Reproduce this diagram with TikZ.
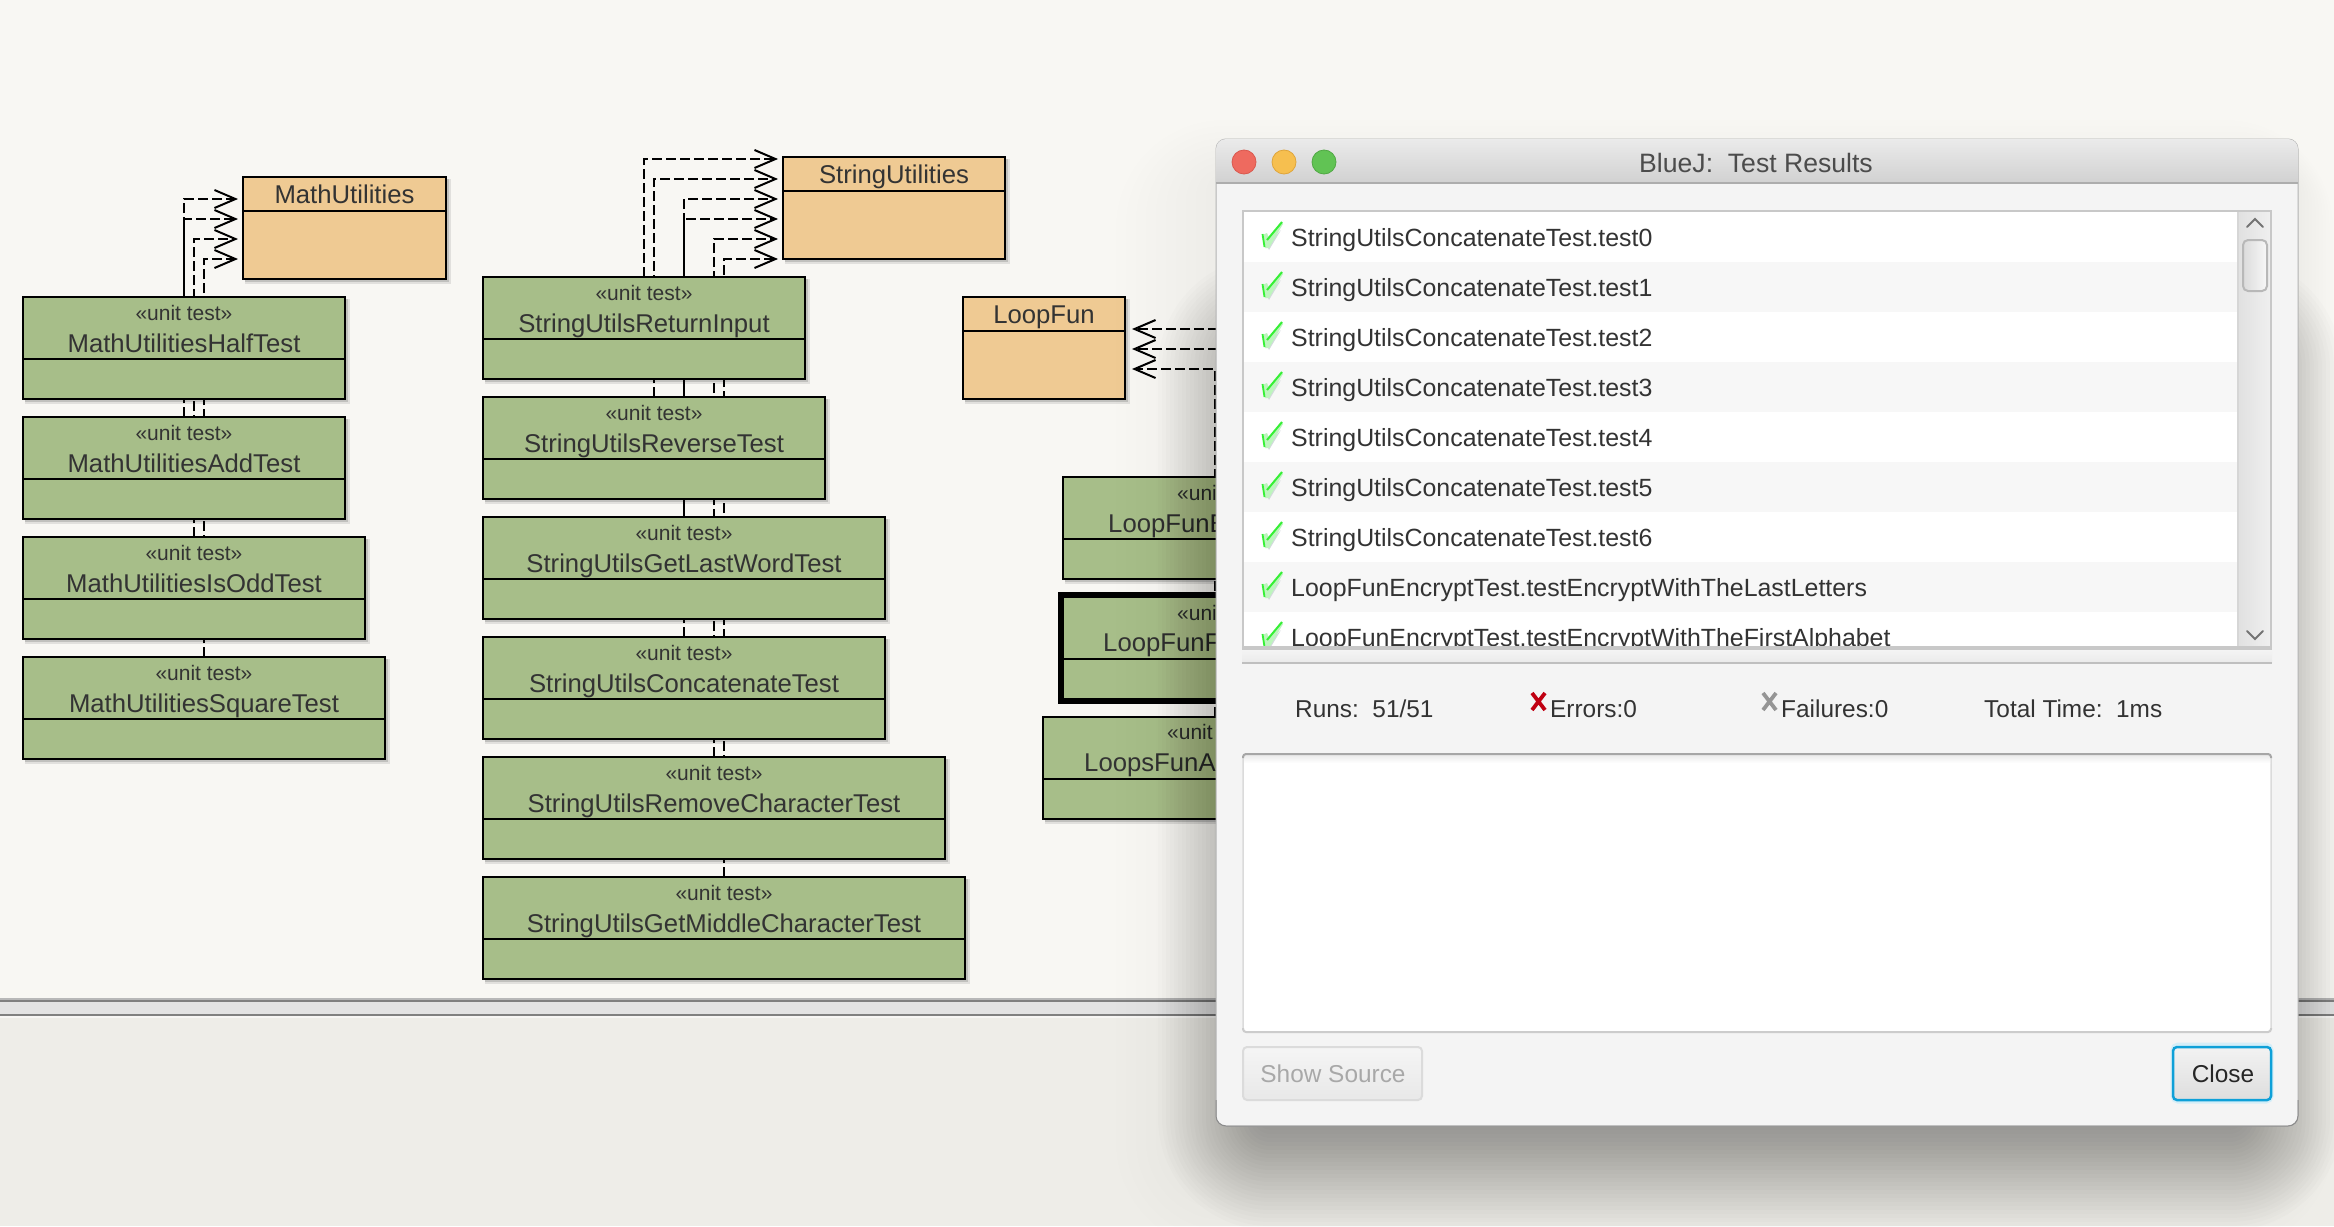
\documentclass[tikz,border=0pt]{standalone}
\usepackage{fontspec}
\setmainfont{Liberation Sans}
\usetikzlibrary{arrows.meta}
\pgfdeclarelayer{canvas}
\pgfdeclarelayer{edges}
\pgfdeclarelayer{win}
\pgfsetlayers{canvas,edges,main,win}
\definecolor{canvasbg}{HTML}{F8F7F3}
\definecolor{lowerbg}{HTML}{EEEDE8}
\definecolor{testgreen}{HTML}{A7BE89}
\definecolor{classorange}{HTML}{EFCA93}
\definecolor{ink}{HTML}{333333}
\definecolor{winbg}{HTML}{F4F4F4}
\definecolor{frameg}{HTML}{C8C8C8}
\definecolor{focusblue}{HTML}{0EA0D8}
\definecolor{tlred}{HTML}{EE6A5F}
\definecolor{tlredb}{HTML}{D9584E}
\definecolor{tlyellow}{HTML}{F6BF4F}
\definecolor{tlyellowb}{HTML}{DFA53A}
\definecolor{tlgreen}{HTML}{61C354}
\definecolor{tlgreenb}{HTML}{50A844}
\definecolor{errred}{HTML}{C00012}
\definecolor{failgrey}{HTML}{959595}
\definecolor{chkpale}{HTML}{BDF5BD}
\definecolor{chkbright}{HTML}{35F035}
\definecolor{chkshadow}{HTML}{D3DADD}
\tikzset{
  umlbody/.style={draw=black,line width=2pt,inner sep=0pt,outer sep=0pt},
  umlline/.style={black,line width=2pt},
  stereo/.style={anchor=base,inner sep=0pt,text=ink,font=\fontsize{21}{24}\selectfont},
  ctitle/.style={anchor=base,inner sep=0pt,text=ink,font=\fontsize{25.7}{30}\selectfont},
  dep/.style={black,line width=2pt,dash pattern=on 10pt off 4pt,-{Straight Barb[length=21pt,width=18pt,line width=2pt]}},
  listtext/.style={anchor=base west,inner sep=0pt,text=ink,font=\fontsize{24.9}{30}\selectfont},
  uitext/.style={anchor=base west,inner sep=0pt,text=ink,font=\fontsize{24.4}{30}\selectfont},
  uicenter/.style={anchor=base,inner sep=0pt,font=\fontsize{24.4}{30}\selectfont},
  chev/.style={draw=black!55,line width=2pt,line cap=round,line join=miter},
}
% name, x1, y1, x2, y2, divider y, fill colour
\newcommand{\umlbox}[7]{%
  \pgfmathsetmacro\bw{#4-(#2)}%
  \pgfmathsetmacro\bh{#5-(#3)}%
  \pgfmathsetmacro\bx{(#2+#4)/2}%
  \pgfmathsetmacro\by{(#3+#5)/2}%
  \fill[black,opacity=.14] (#2+2,#3+2) rectangle (#4+3,#5+3);
  \fill[black,opacity=.09] (#2+2,#3+2) rectangle (#4+5,#5+5);
  \node[umlbody,fill=#7,minimum width=\bw pt,minimum height=\bh pt] (#1) at (\bx,\by) {};
  \draw[umlline] (#2,#6) -- (#4,#6);
}
% name, x1, y1, x2, title
\newcommand{\testbox}[5]{%
  \umlbox{#1}{#2}{#3}{#4}{#3+102}{#3+62}{testgreen}%
  \node[stereo] (#1-s) at (\bx,#3+23) {«unit test»};
  \node[ctitle] (#1-t) at (\bx,#3+55) {#5};
}
\newcommand{\classbox}[5]{%
  \umlbox{#1}{#2}{#3}{#4}{#3+102}{#3+34}{classorange}%
  \node[ctitle] (#1-t) at (\bx,#3+26) {#5};
}
% check mark, #1 = text baseline
\newcommand{\chk}[1]{%
  \begin{scope}[shift={(1262,#1-25)}]
    \fill[chkshadow] (3,20) -- (7,29) -- (19,9) -- (8,21) -- cycle;
    \fill[chkpale] (0,14) -- (5,12) -- (7,17) -- (19,1) -- (21,3) -- (7,27) -- (3,27) -- cycle;
    \draw[line width=1.8pt,chkbright] (0.5,13) -- (2.5,26);
    \draw[line width=2pt,chkbright] (5,19) -- (20,1);
  \end{scope}
}
\begin{document}
\begin{tikzpicture}[x=1pt,y=-1pt]
\useasboundingbox (0,0) rectangle (2334,1226);

% ---------- application background ----------
\begin{pgfonlayer}{canvas}
  \fill[canvasbg] (0,0) rectangle (2334,998);
  \fill[black!28] (0,998) rectangle (2334,1000);
  \fill[black!50] (0,1000) rectangle (2334,1002);
  \fill[black!11] (0,1002) rectangle (2334,1014);
  \fill[black!50] (0,1014) rectangle (2334,1016);
  \fill[white!50!lowerbg] (0,1016) rectangle (2334,1018);
  \fill[lowerbg] (0,1018) rectangle (2334,1226);
\end{pgfonlayer}

% ---------- class boxes ----------
\classbox{MathUtilities}{243}{177}{446}{MathUtilities}
\testbox{HalfTest}{23}{297}{345}{MathUtilitiesHalfTest}
\testbox{AddTest}{23}{417}{345}{MathUtilitiesAddTest}
\testbox{IsOddTest}{23}{537}{365}{MathUtilitiesIsOddTest}
\testbox{SquareTest}{23}{657}{385}{MathUtilitiesSquareTest}

\classbox{StringUtilities}{783}{157}{1005}{StringUtilities}
\testbox{ReturnInput}{483}{277}{805}{StringUtilsReturnInput}
\testbox{ReverseTest}{483}{397}{825}{StringUtilsReverseTest}
\testbox{LastWordTest}{483}{517}{885}{StringUtilsGetLastWordTest}
\testbox{ConcatTest}{483}{637}{885}{StringUtilsConcatenateTest}
\testbox{RemoveTest}{483}{757}{945}{StringUtilsRemoveCharacterTest}
\testbox{MiddleTest}{483}{877}{965}{StringUtilsGetMiddleCharacterTest}

\classbox{LoopFun}{963}{297}{1125}{LoopFun}

\umlbox{LoopE}{1063}{477}{1385}{579}{539}{testgreen}
\node[stereo,anchor=base west] (LoopE-s) at (1177,500) {«uni};
\node[ctitle,anchor=base west] (LoopE-t) at (1108,532) {LoopFunE};

\fill[black,opacity=.14] (1061,595) rectangle (1387,704);
\node[draw=black,line width=6pt,fill=testgreen,inner sep=0pt,outer sep=0pt,minimum width=326pt,minimum height=106pt] (LoopF) at (1224,648) {};
\draw[umlline] (1061,659) -- (1387,659);
\node[stereo,anchor=base west] (LoopF-s) at (1177,620) {«uni};
\node[ctitle,anchor=base west] (LoopF-t) at (1103,651) {LoopFunF};

\umlbox{LoopA}{1043}{717}{1387}{819}{779}{testgreen}
\node[stereo,anchor=base west] (LoopA-s) at (1167,739) {«unit};
\node[ctitle,anchor=base west] (LoopA-t) at (1084,771) {LoopsFunAd};

% ---------- arrow ends ----------
\coordinate (mt1) at (238,199);
\coordinate (mt2) at (238,219);
\coordinate (mt3) at (238,239);
\coordinate (mt4) at (238,259);
\coordinate (st1) at (778,159);
\coordinate (st2) at (778,179);
\coordinate (st3) at (778,199);
\coordinate (st4) at (778,219);
\coordinate (st5) at (778,239);
\coordinate (st6) at (778,259);
\coordinate (lt1) at (1132,329);
\coordinate (lt2) at (1132,349);
\coordinate (lt3) at (1132,369);

\begin{pgfonlayer}{edges}
  \draw[dep] (HalfTest.north) |- (mt1);
  \draw[dep] (AddTest.north) |- (mt2);
  \draw[dep] (IsOddTest.north) |- (mt3);
  \draw[dep] (SquareTest.north) |- (mt4);
  \draw[dep] (ReturnInput.north) |- (st1);
  \draw[dep] (ReverseTest.north) |- (st2);
  \draw[dep] (LastWordTest.north) |- (st3);
  \draw[dep] (ConcatTest.north) |- (st4);
  \draw[dep] (RemoveTest.north) |- (st5);
  \draw[dep] (MiddleTest.north) |- (st6);
  \draw[dep] (LoopE.north) |- (lt1);
  \draw[dep] (LoopF.north) |- (lt2);
  \draw[dep] (LoopA.north) |- (lt3);
\end{pgfonlayer}

% ---------- dialog ----------
\begin{pgfonlayer}{win}
  % soft shadow, built from stacked translucent rectangles
  \foreach \w in {-54,-50,...,54} {
    \pgfmathsetmacro\rr{\w+58}
    \fill[black,opacity=.0125,rounded corners=\rr pt] (1212-\w,310-\w) rectangle (2288+\w,1176+\w);
  }
  \foreach \w in {10,20,...,100} {
    \pgfmathsetmacro\rr{\w+8}
    \fill[black,opacity=.005,rounded corners=\rr pt] (1216-\w,180-\w*.6) rectangle (2298+\w*.35,1150+\w);
  }
  % body
  \fill[winbg,draw=black!30,line width=1pt,rounded corners=10pt] (1216,139) rectangle (2298,1126);
  \draw[black!45,line width=1pt,rounded corners=10pt] (1216,1100) -- (1216,1126) -- (2298,1126) -- (2298,1100);
  % title bar
  \shade[top color=black!8,bottom color=black!18] (1216,183) {[rounded corners=10pt] -- (1216,139) -- (2298,139)} -- (2298,183) -- cycle;
  \fill[black!32] (1216,182) rectangle (2298,184);
  \fill[tlred,draw=tlredb,line width=.8pt] (1244,162) circle (12pt);
  \fill[tlyellow,draw=tlyellowb,line width=.8pt] (1284,162) circle (12pt);
  \fill[tlgreen,draw=tlgreenb,line width=.8pt] (1324,162) circle (12pt);
  \node[anchor=base,inner sep=0pt,text=black!70,font=\fontsize{26.6}{30}\selectfont] (wintitle) at (1756,172) {BlueJ:\ \ Test Results};

  % test list
  \fill[white] (1243,211) rectangle (2238,647);
  \foreach \i in {1,3,5,7} {
    \fill[black!3] (1244,212+50*\i) rectangle (2238,262+50*\i);
  }
  \begin{scope}
    \clip (1243,211) rectangle (2238,646);
    \foreach \i/\t in {0/StringUtilsConcatenateTest.test0,
                       1/StringUtilsConcatenateTest.test1,
                       2/StringUtilsConcatenateTest.test2,
                       3/StringUtilsConcatenateTest.test3,
                       4/StringUtilsConcatenateTest.test4,
                       5/StringUtilsConcatenateTest.test5,
                       6/StringUtilsConcatenateTest.test6,
                       7/LoopFunEncryptTest.testEncryptWithTheLastLetters,
                       8/LoopFunEncryptTest.testEncryptWithTheFirstAlphabet} {
      \chk{246+50*\i}
      \node[listtext] (row\i) at (1291,246+50*\i) {\t};
    }
  \end{scope}
  % scrollbar
  \shade[left color=black!12,right color=black!6] (2238,211) rectangle (2271,647);
  \draw[black!16,line width=1.5pt] (2238,212) -- (2238,647);
  \shade[left color=black!14,right color=black!3,draw=black!28,line width=2pt,rounded corners=5pt] (2243,240) rectangle (2267,291);
  \draw[chev] (2247,227) -- (2255,219) -- (2263,227);
  \draw[chev] (2247,631) -- (2255,639) -- (2263,631);
  \draw[frameg,line width=2.5pt] (1243,647.5) -- (1243,211) -- (2271,211) -- (2271,647.5);
  \fill[frameg] (1242,646) rectangle (2272,650);
  % sash
  \shade[top color=winbg,bottom color=black!8] (1242,650) rectangle (2272,662);
  \fill[black!25] (1242,662) rectangle (2272,664);

  % status row
  \node[uitext] (runs) at (1295,717) {Runs:\ \ 51/51};
  \draw[errred,line width=3.8pt] (1532,693) -- (1545,710) (1545,693) -- (1532,710);
  \node[uitext] (errors) at (1550,717) {Errors:0};
  \draw[failgrey,line width=3.8pt] (1763,693) -- (1776,710) (1776,693) -- (1763,710);
  \node[uitext] (failures) at (1781,717) {Failures:0};
  \node[uitext] (total) at (1984,717) {Total Time:\ \ 1ms};

  % message pane
  \fill[white,draw=black!14,line width=1.5pt,rounded corners=3pt] (1243,754) rectangle (2271,1032);
  \shade[top color=black!8,bottom color=white] (1244,755) rectangle (2270,763);
  \draw[black!35,line width=2pt,rounded corners=3pt] (1243,758) -- (1243,754) -- (2271,754) -- (2271,758);
  \draw[black!20,line width=2pt,rounded corners=3pt] (1243,1028) -- (1243,1032) -- (2271,1032) -- (2271,1028);

  % buttons
  \shade[top color=black!4,bottom color=black!9,draw=black!14,line width=2pt,rounded corners=4pt] (1243,1047) rectangle (1422,1100);
  \node[uicenter,text=black!34] (showsource) at (1333,1082) {Show Source};
  \draw[focusblue!18,line width=5pt,rounded corners=5pt] (2173,1045) rectangle (2271,1101);
  \shade[top color=black!5,bottom color=black!13,draw=focusblue,line width=2.5pt,rounded corners=4pt] (2173,1047) rectangle (2271,1100);
  \node[uicenter,text=black!85] (close) at (2223,1082) {Close};
\end{pgfonlayer}
\end{tikzpicture}
\end{document}
